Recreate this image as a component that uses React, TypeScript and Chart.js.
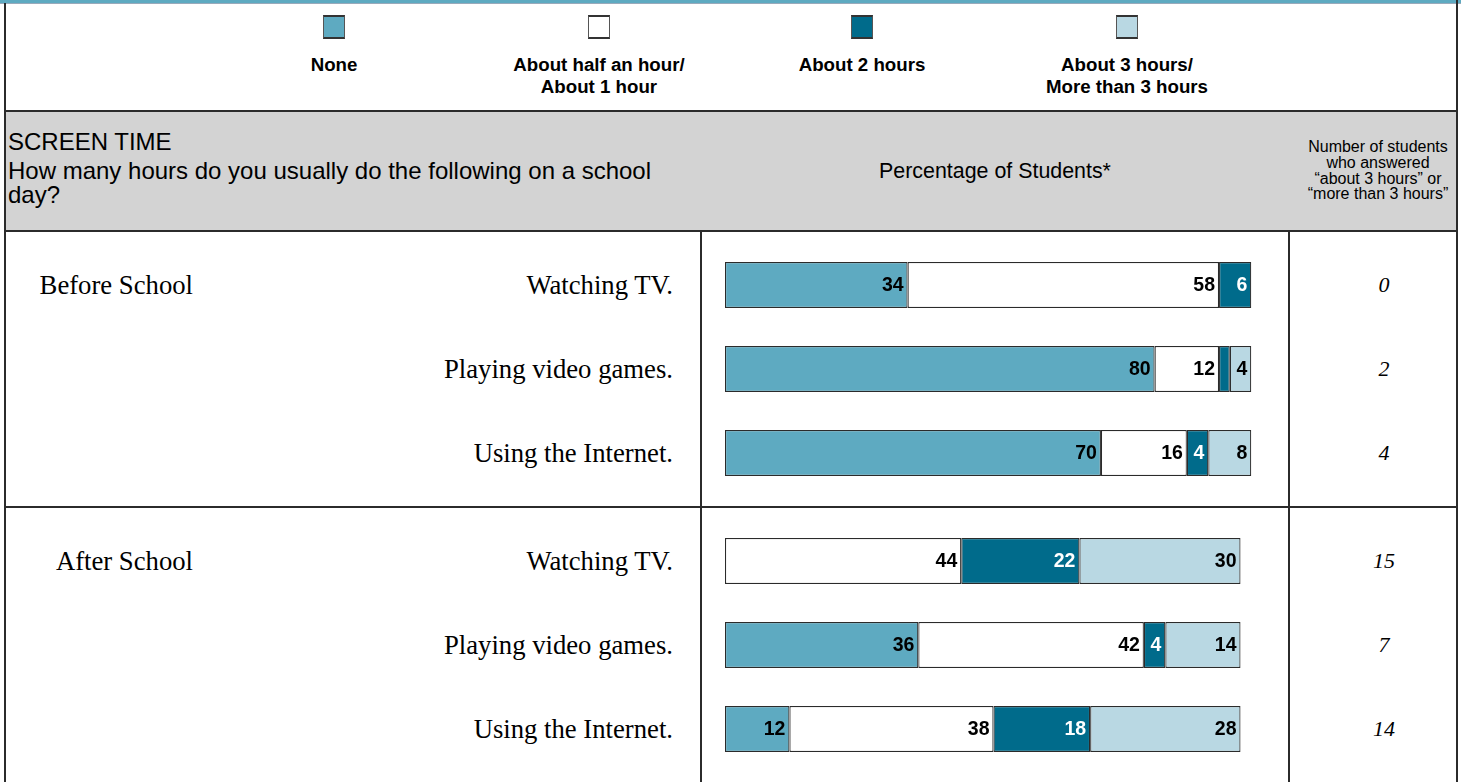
import React, { useEffect, useRef } from "react";
import { Chart, registerables } from "chart.js";

Chart.register(...registerables);

// ---------- data ----------
const ITEMS = ["Watching TV.", "Playing video games.", "Using the Internet."];
const GROUPS = ["Before School", "After School"];
const SERIES_NAMES = ["None", "About half an hour/\nAbout 1 hour", "About 2 hours", "About 3 hours/\nMore than 3 hours"];
const SERIES_COLORS = ["#5EAAC1", "#FFFFFF", "#006B8B", "#B9D8E3"];

const BEFORE_NONE = [34, 80, 70];
const BEFORE_HALF = [58, 12, 16];
const BEFORE_TWO = [6, 2, 4];
const BEFORE_THREE = [0, 4, 8];

const AFTER_NONE = [0, 36, 12];
const AFTER_HALF = [44, 42, 38];
const AFTER_TWO = [22, 4, 18];
const AFTER_THREE = [30, 14, 28];

const BEFORE_COUNTS = ["0", "2", "4"];
const AFTER_COUNTS = ["15", "7", "14"];

const HEADER_TITLE = "SCREEN TIME";
const HEADER_QUESTION = ["How many hours do you usually do the following on a school", "day?"];
const HEADER_MIDDLE = "Percentage of Students*";
const HEADER_RIGHT = ["Number of students", "who answered", "\u201Cabout 3 hours\u201D or", "\u201Cmore than 3 hours\u201D"];

const SANS = '"Liberation Sans", Arial, Helvetica, sans-serif';
const SERIF = '"Liberation Serif", "Times New Roman", Times, serif';
const LINE = "#2b2b2b";

const labelPlugin = {
  id: "segLabels",
  afterDatasetsDraw(chart: any) {
    const ctx = chart.ctx;
    ctx.save();
    ctx.font = `bold 19.5px ${SANS}`;
    ctx.textAlign = "right";
    ctx.textBaseline = "middle";
    chart.data.datasets.forEach((ds: any, i: number) => {
      const meta = chart.getDatasetMeta(i);
      meta.data.forEach((el: any, j: number) => {
        const v = ds.data[j];
        if (v < 3) return;
        ctx.fillStyle = i === 2 ? "#ffffff" : "#000000";
        ctx.fillText(String(v), el.x - 4, el.y + 1);
      });
    });
    ctx.restore();
  },
};

function BarPanel({ series, top }: { series: number[][]; top: number }) {
  const ref = useRef<HTMLCanvasElement>(null);
  useEffect(() => {
    if (!ref.current) return;
    const chart = new Chart(ref.current, {
      type: "bar",
      data: {
        labels: ITEMS,
        datasets: series.map((d, i) => ({
          label: SERIES_NAMES[i],
          data: d,
          backgroundColor: SERIES_COLORS[i],
          borderColor: LINE,
          borderWidth: 1.2,
          borderSkipped: false,
          barPercentage: 1,
          categoryPercentage: 46 / 84,
        })),
      },
      options: {
        indexAxis: "y",
        responsive: false,
        maintainAspectRatio: false,
        animation: false,
        layout: { padding: { left: 23, right: 26, top: 11, bottom: 11 } },
        plugins: { legend: { display: false }, tooltip: { enabled: false } },
        scales: {
          x: { stacked: true, min: 0, max: 100, display: false },
          y: { stacked: true, display: false },
        },
      },
      plugins: [labelPlugin],
    });
    return () => chart.destroy();
  }, []);
  return (
    <canvas
      ref={ref}
      width={586}
      height={274}
      style={{ position: "absolute", left: 702, top, width: 586, height: 274 }}
    />
  );
}

const abs = (s: React.CSSProperties): React.CSSProperties => ({ position: "absolute", ...s });

export default function App() {
  const rowCenters = [[285, 369, 453], [561, 645, 729]];
  const counts = [BEFORE_COUNTS, AFTER_COUNTS];
  const swatchX = [334, 599, 862, 1127];
  return (
    <div style={abs({ left: 0, top: 0, width: 1461, height: 782, overflow: "hidden", background: "#fff", fontFamily: SANS })}>
      {/* top band */}
      <div style={abs({ left: 0, top: 0, width: 1461, height: 3, background: "#5EAAC1" })} />
      <div style={abs({ left: 0, top: 3, width: 1461, height: 1, background: "#9ab" })} />
      {/* frame */}
      <div style={abs({ left: 4, top: 3, width: 2, height: 779, background: LINE })} />
      <div style={abs({ left: 1456, top: 0, width: 2, height: 782, background: LINE })} />
      {/* header gray */}
      <div style={abs({ left: 6, top: 111, width: 1450, height: 119, background: "#D3D3D3" })} />
      <div style={abs({ left: 4, top: 110, width: 1454, height: 2, background: LINE })} />
      <div style={abs({ left: 4, top: 230, width: 1454, height: 2, background: LINE })} />
      {/* vertical separators */}
      <div style={abs({ left: 700, top: 231, width: 2, height: 551, background: LINE })} />
      <div style={abs({ left: 1288, top: 231, width: 2, height: 551, background: LINE })} />
      {/* group separator */}
      <div style={abs({ left: 4, top: 506, width: 1454, height: 2, background: LINE })} />

      {/* legend */}
      {SERIES_NAMES.map((name, i) => (
        <React.Fragment key={name}>
          <div
            style={abs({
              left: swatchX[i] - 11,
              top: 15,
              width: 20,
              height: 20,
              background: SERIES_COLORS[i],
              borderLeft: "1px solid #555",
              borderRight: "1px solid #555",
              borderTop: "2px solid #333",
              borderBottom: "2px solid #333",
            })}
          />
          <div
            style={abs({
              left: swatchX[i] - 150,
              top: 54,
              width: 300,
              textAlign: "center",
              fontWeight: "bold",
              fontSize: 18.7,
              lineHeight: "22px",
              whiteSpace: "pre",
              color: "#000",
            })}
          >
            {name}
          </div>
        </React.Fragment>
      ))}

      {/* header texts */}
      <div style={abs({ left: 8, top: 128, fontSize: 24, lineHeight: "28px", color: "#000", whiteSpace: "pre" })}>
        {HEADER_TITLE}
      </div>
      <div style={abs({ left: 8, top: 159, fontSize: 24, lineHeight: "24px", color: "#000", whiteSpace: "pre" })}>
        {HEADER_QUESTION.join("\n")}
      </div>
      <div style={abs({ left: 702, top: 158, width: 586, textAlign: "center", fontSize: 21.4, lineHeight: "26px", color: "#000" })}>
        {HEADER_MIDDLE}
      </div>
      <div
        style={abs({
          left: 1290,
          top: 139,
          width: 176,
          textAlign: "center",
          fontSize: 16,
          lineHeight: "15.8px",
          color: "#000",
          whiteSpace: "pre",
        })}
      >
        {HEADER_RIGHT.join("\n")}
      </div>

      {/* body labels */}
      {GROUPS.map((g, gi) => (
        <React.Fragment key={g}>
          <div
            style={abs({
              left: 0,
              top: rowCenters[gi][0] - 16,
              width: 193,
              height: 32,
              lineHeight: "32px",
              textAlign: "right",
              fontFamily: SERIF,
              fontSize: 26.7,
              color: "#000",
            })}
          >
            {g}
          </div>
          {ITEMS.map((it, ii) => (
            <React.Fragment key={it}>
              <div
                style={abs({
                  left: 200,
                  top: rowCenters[gi][ii] - 16,
                  width: 473,
                  height: 32,
                  lineHeight: "32px",
                  textAlign: "right",
                  fontFamily: SERIF,
                  fontSize: 26.7,
                  color: "#000",
                })}
              >
                {it}
              </div>
              <div
                style={abs({
                  left: 1334,
                  top: rowCenters[gi][ii] - 15,
                  width: 100,
                  height: 30,
                  lineHeight: "30px",
                  textAlign: "center",
                  fontFamily: SERIF,
                  fontStyle: "italic",
                  fontSize: 22,
                  color: "#000",
                })}
              >
                {counts[gi][ii]}
              </div>
            </React.Fragment>
          ))}
        </React.Fragment>
      ))}

      <BarPanel series={[BEFORE_NONE, BEFORE_HALF, BEFORE_TWO, BEFORE_THREE]} top={232} />
      <BarPanel series={[AFTER_NONE, AFTER_HALF, AFTER_TWO, AFTER_THREE]} top={508} />
    </div>
  );
}
